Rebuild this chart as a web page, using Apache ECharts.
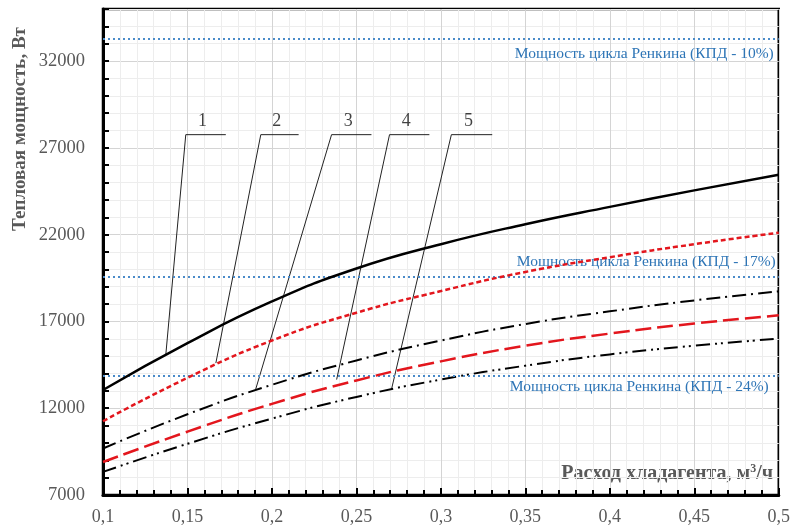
<!DOCTYPE html>
<html>
<head>
<meta charset="utf-8">
<script src="https://cdn.jsdelivr.net/npm/echarts@6/dist/echarts.min.js"></script>
<style>
  html, body { margin: 0; padding: 0; background: #fff; }
  #chart { width: 793px; height: 526px; }
</style>
</head>
<body>
<div id="chart"></div>
<script>
// расход хладагента, м3/ч
const flowRates = [0.1, 0.15, 0.2, 0.25, 0.3, 0.35, 0.4, 0.45, 0.5];
// тепловая мощность, Вт (кривые 1..5)
const curve1 = [13050, 15750, 18150, 20050, 21450, 22600, 23600, 24550, 25450];
const curve2 = [11250, 13750, 15900, 17500, 18750, 19850, 20700, 21450, 22110];
const curve3 = [9680, 11650, 13350, 14750, 15900, 16850, 17580, 18210, 18730];
const curve4 = [8900, 10650, 12250, 13600, 14700, 15600, 16300, 16880, 17350];
const curve5 = [8330, 9950, 11400, 12650, 13650, 14450, 15100, 15600, 16010];

// мощность цикла Ренкина
const rankineLevels = [33300, 19600, 13870];
const rankineLabels = [
  'Мощность цикла Ренкина (КПД - 10%)',
  'Мощность цикла Ренкина (КПД - 17%)',
  'Мощность цикла Ренкина (КПД - 24%)'
];

// выноски 1..5: точка на кривой, начало и конец полки
const leaderNames = ['1', '2', '3', '4', '5'];
const leaderAnchors = [[0.1372, 15110], [0.1668, 14600], [0.1904, 13100], [0.2383, 13650], [0.2708, 13100]];
const leaderShelfStart = [0.149, 0.1934, 0.2353, 0.2696, 0.3062];
const leaderShelfEnd = [0.1727, 0.2158, 0.2589, 0.2932, 0.3304];
const leaderShelfY = 27760;

const FONT = "'Liberation Serif', 'Times New Roman', serif";
const GREY = '#595959';
const BLUE = '#2e75b6';

const chart = echarts.init(document.getElementById('chart'));

const toPairs = arr => flowRates.map((x, i) => [x, arr[i]]);

const curveStyles = [
  { color: '#000', width: 2.5, type: 'solid' },
  { color: '#e3161d', width: 2.5, type: [5, 3] },
  { color: '#000', width: 2, type: [14, 5, 2, 5] },
  { color: '#e3161d', width: 2.5, type: [16, 6] },
  { color: '#000', width: 2, type: [14, 5, 2, 4, 2, 5] }
];

const curves = [curve1, curve2, curve3, curve4, curve5].map((c, i) => ({
  type: 'line',
  data: toPairs(c),
  smooth: true,
  symbol: 'none',
  silent: true,
  z: 5 - i + 3,
  lineStyle: curveStyles[i]
}));

// подписи уровней Ренкина: 10% и 24% под линией, 17% над
const labelPos = ['insideEndBottom', 'insideEndTop', 'insideEndBottom'];
const labelDist = [[5, 7], [3, 6], [10, 3]];
curves[0].markLine = {
  symbol: 'none',
  silent: true,
  animation: false,
  lineStyle: { color: '#4a8bc9', type: [2, 3], width: 2 },
  data: rankineLevels.map((v, i) => ({
    yAxis: v,
    label: {
      show: true,
      position: labelPos[i],
      distance: labelDist[i],
      formatter: rankineLabels[i],
      color: BLUE,
      fontFamily: FONT,
      fontSize: 15.5
    }
  }))
};

const leaders = leaderNames.map((n, i) => ({
  type: 'line',
  data: [leaderAnchors[i], [leaderShelfStart[i], leaderShelfY], [leaderShelfEnd[i], leaderShelfY]],
  symbol: 'none',
  silent: true,
  lineStyle: { color: '#222', width: 1 },
  z: 3
}));

const leaderLabels = {
  type: 'scatter',
  symbolSize: 0,
  silent: true,
  data: leaderNames.map((n, i) => ({
    name: n,
    value: [leaderShelfStart[i] + (leaderShelfEnd[i] - leaderShelfStart[i]) * 0.42, leaderShelfY]
  })),
  label: {
    show: true,
    position: 'top',
    distance: 4,
    formatter: p => p.name,
    color: '#111',
    fontFamily: FONT,
    fontSize: 18
  }
};

const option = {
  animation: false,
  grid: {
    left: 103, right: 13, top: 9, bottom: 30,
    show: true, borderColor: '#000', borderWidth: 2.5
  },
  xAxis: {
    type: 'value',
    min: 0.1,
    max: 0.5,
    interval: 0.05,
    axisLine: { show: true, onZero: false, lineStyle: { color: '#000', width: 3 } },
    axisTick: { show: true, inside: true, length: 7, lineStyle: { color: '#000', width: 2 } },
    minorTick: { show: true, splitNumber: 5, length: 5, lineStyle: { color: '#000', width: 2 } },
    splitLine: { show: true, lineStyle: { color: '#d4d4d4', width: 1 } },
    minorSplitLine: { show: true, lineStyle: { color: '#ededed', width: 1 } },
    axisLabel: {
      color: GREY, fontFamily: FONT, fontSize: 18, margin: 13,
      formatter: v => String(Math.round(v * 100) / 100).replace('.', ',')
    }
  },
  yAxis: {
    type: 'value',
    min: 7000,
    max: 35000,
    interval: 1000,
    axisLine: { show: true, onZero: false, lineStyle: { color: '#000', width: 3 } },
    axisTick: { show: true, inside: true, length: 6, lineStyle: { color: '#000', width: 2 } },
    splitLine: {
      show: true,
      lineStyle: { color: ['#d4d4d4', '#ededed', '#ededed', '#ededed', '#ededed'], width: 1 }
    },
    axisLabel: {
      color: GREY, fontFamily: FONT, fontSize: 18.5, margin: 18,
      formatter: v => ((v - 7000) % 5000 === 0 && v < 35000 ? String(v) : '')
    }
  },
  graphic: [
    {
      type: 'text',
      x: 20,
      y: 129,
      rotation: Math.PI / 2,
      style: {
        text: 'Тепловая мощность, Вт',
        font: `bold 19px ${FONT}`,
        fill: GREY,
        align: 'center',
        verticalAlign: 'middle'
      }
    },
    {
      type: 'text',
      right: 20,
      top: 463,
      style: {
        text: '{t|Расход хладагента, м}{s|3}{t|/ч}',
        rich: {
          t: { font: `bold 20px ${FONT}`, fill: GREY },
          s: { font: `bold 12px ${FONT}`, fill: GREY, verticalAlign: 'top', padding: [0, 0, 9, 0] }
        }
      }
    }
  ],
  series: [...curves, ...leaders, leaderLabels]
};

chart.setOption(option);
</script>
</body>
</html>
